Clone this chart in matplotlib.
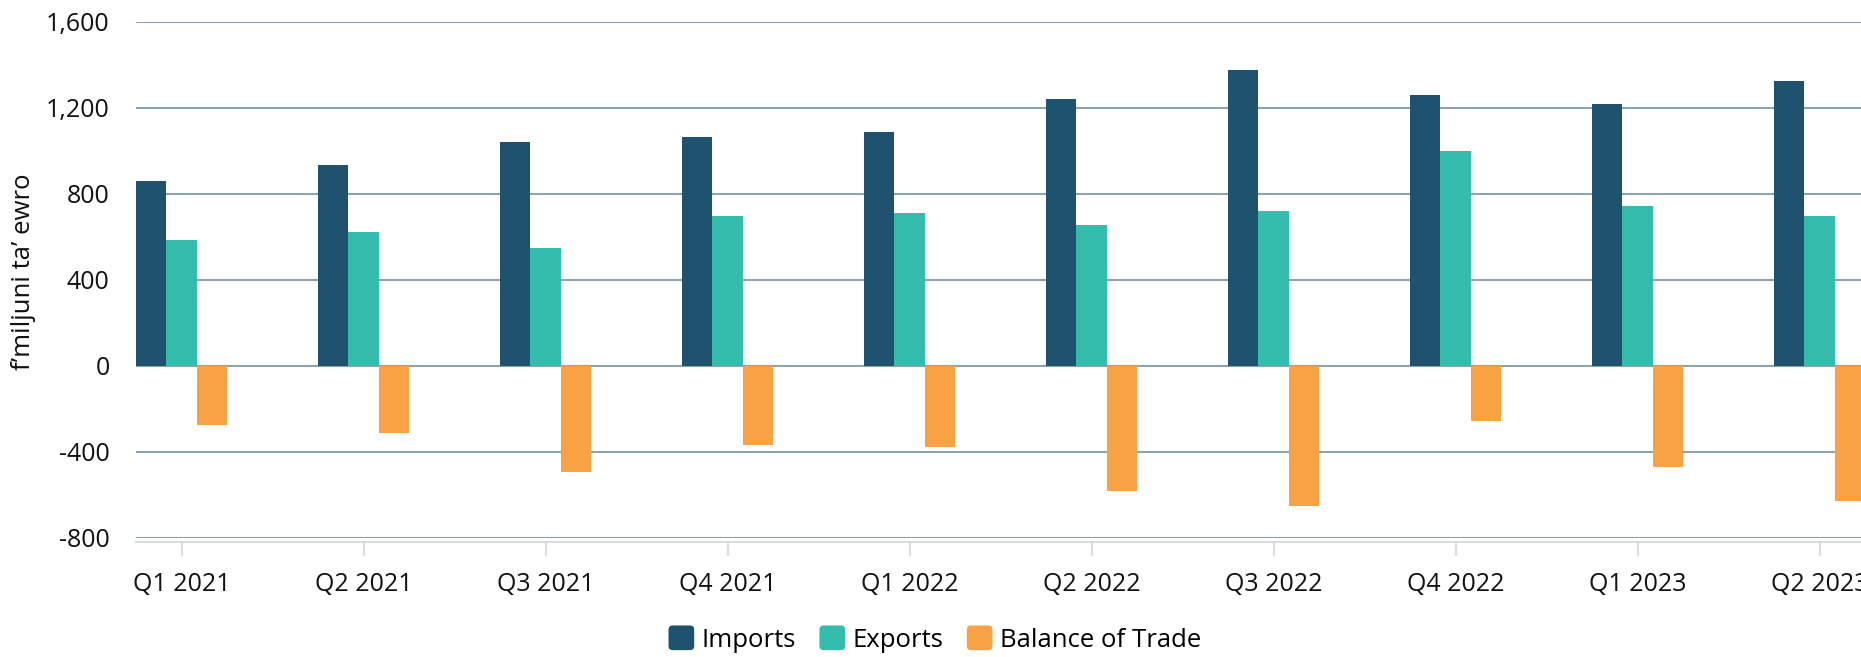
import numpy as np
from matplotlib import pyplot as plt
from matplotlib.patches import FancyBboxPatch
from matplotlib.legend_handler import HandlerPatch
from matplotlib.ticker import FuncFormatter

quarters = ["Q1 2021", "Q2 2021", "Q3 2021", "Q4 2021", "Q1 2022",
            "Q2 2022", "Q3 2022", "Q4 2022", "Q1 2023", "Q2 2023"]
imports = [857, 931, 1039, 1062, 1085, 1240, 1375, 1259, 1217, 1324]
exports = [584, 621, 547, 695, 709, 653, 720, 999, 743, 697]
balance = [-278, -315, -497, -368, -377, -585, -655, -260, -472, -630]

series = [("Imports", imports, "#1f526e"),
          ("Exports", exports, "#34bcad"),
          ("Balance of Trade", balance, "#f8a243")]


class RoundedHandler(HandlerPatch):
    def create_artists(self, legend, orig_handle, xdescent, ydescent,
                       width, height, fontsize, trans):
        p = FancyBboxPatch((-xdescent, -ydescent), width, height,
                           boxstyle="round,pad=0,rounding_size=3",
                           fc=orig_handle.get_facecolor(), ec="none",
                           transform=trans)
        return [p]


def main():
    plt.rcParams["font.family"] = ["Open Sans", "DejaVu Sans"]
    plt.rcParams["axes.unicode_minus"] = False

    fig = plt.figure(figsize=(18.61, 6.57), dpi=100)
    ax = fig.add_axes([136 / 1861, 1 - 537.5 / 657, 1 - 136 / 1861, (537.5 - 21.7) / 657])

    x = np.arange(len(quarters))
    w = 0.168
    bars = []
    for k, (name, vals, col) in enumerate(series):
        b = ax.bar(x + (k - 1) * w, vals, width=w, color=col, label=name, zorder=3)
        bars.append(b)

    ax.set_xlim(-0.25, (1861 - 181.5) / 182)
    ax.set_ylim(-800, 1600)
    ax.set_yticks(np.arange(-800, 1601, 400))
    ax.yaxis.set_major_formatter(FuncFormatter(lambda v, p: "{:,.0f}".format(v)))
    ax.set_xticks(x)
    ax.set_xticklabels(quarters)

    ax.set_axisbelow(True)
    ax.yaxis.grid(True, color="#8fa3ad", linewidth=1.5)
    for s in ["top", "right", "left"]:
        ax.spines[s].set_visible(False)
    ax.spines["bottom"].set_color("#dcdcdc")
    ax.spines["bottom"].set_linewidth(1.5)
    ax.spines["bottom"].set_position(("outward", 3))

    ax.tick_params(axis="y", length=0, pad=19, labelsize=18, labelcolor="#111111")
    ax.tick_params(axis="x", length=10, width=1.5, color="#dcdcdc", pad=12,
                   labelsize=18, labelcolor="#111111")

    fig.text(24 / 1861, 1 - 272 / 657, "f\u2019miljuni ta\u2019 ewro", rotation=90,
             ha="center", va="center", fontsize=18.5, color="#111111")

    handles = [b.patches[0] for b in bars]
    fig.legend(handles, [s[0] for s in series], loc="center",
               bbox_to_anchor=(935 / 1861, 1 - 639 / 657), ncol=3, frameon=False,
               fontsize=18.5, handlelength=1.0, handleheight=1.1,
               handletextpad=0.3, columnspacing=0.9,
               handler_map={type(handles[0]): RoundedHandler()})

    fig.savefig("out.png", dpi=100)


if __name__ == '__main__':
    main()
